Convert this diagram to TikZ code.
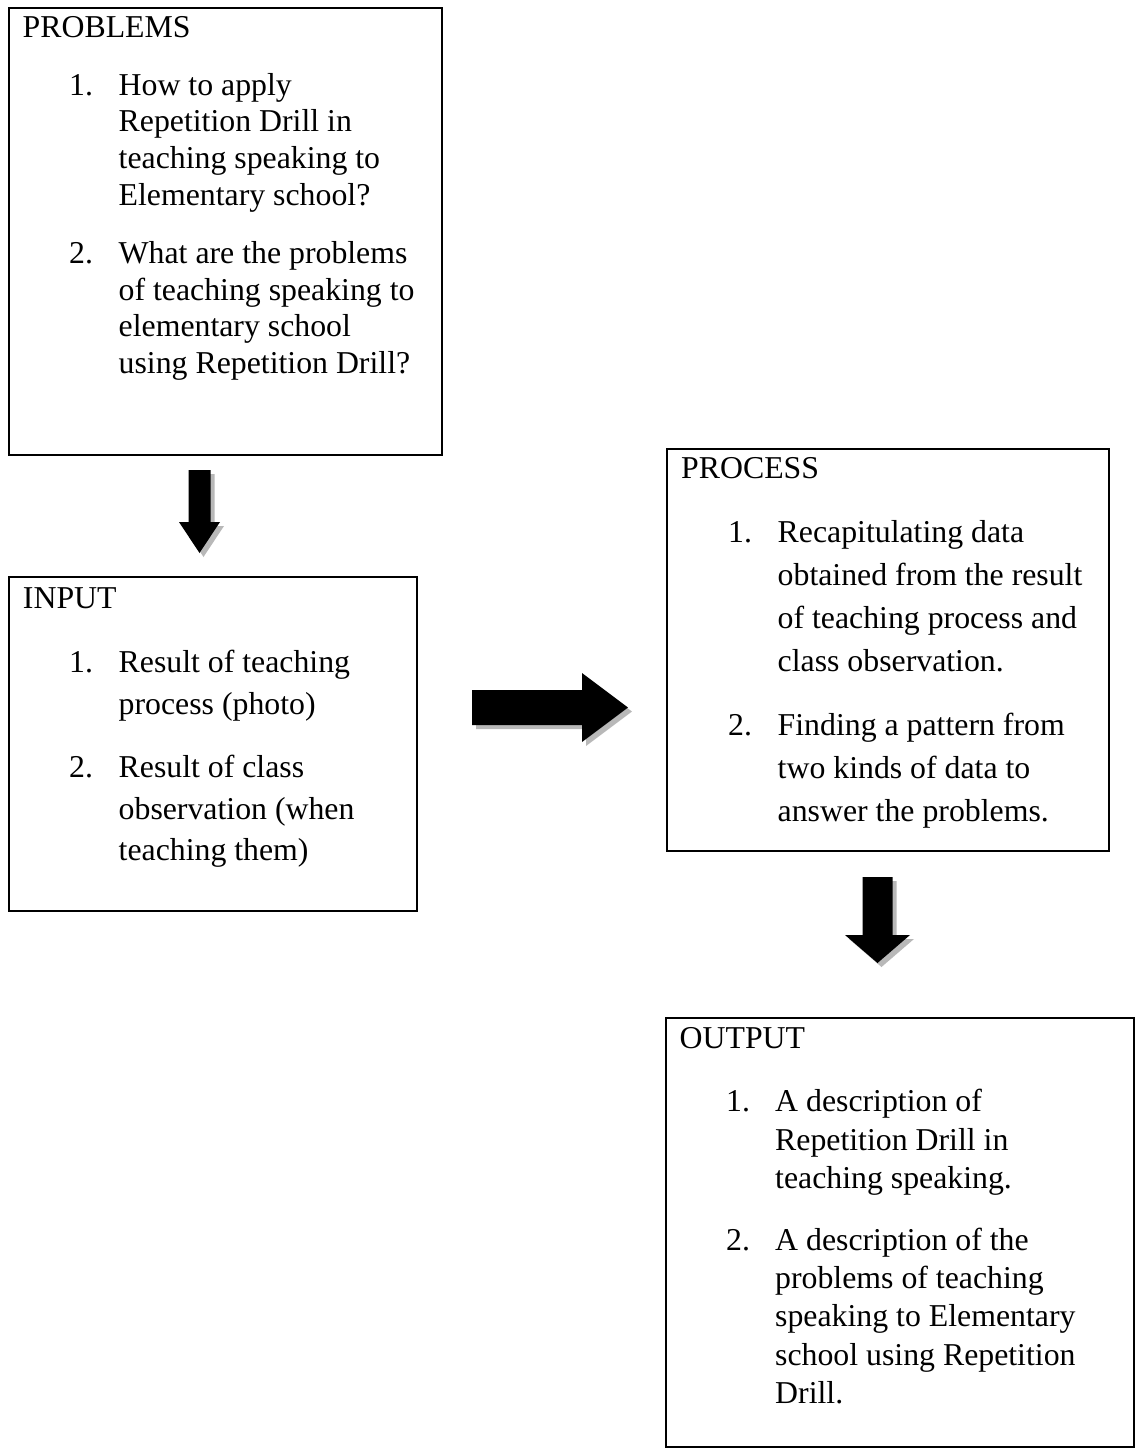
\documentclass[tikz,border=0pt]{standalone}
\usepackage{fontspec}
\setmainfont{Liberation Serif}
\usetikzlibrary{calc,shadows}
\begin{document}
\begin{tikzpicture}[x=1pt,y=-1pt,
  box/.style={draw=black, line width=2pt, rectangle, inner sep=0pt},
  txt/.style={anchor=base west, inner sep=0pt, font=\fontsize{31.8}{38}\selectfont},
  blk/.style={fill=black, drop shadow={shadow xshift=4pt, shadow yshift=-4pt, fill=black!28, opacity=1}}]
\useasboundingbox (0,0) rectangle (1139,1456);

% boxes
\node[box, minimum width=432.7pt, minimum height=447pt] (problems) at (225.35,231.5) {};
\node[box, minimum width=408pt, minimum height=334pt] (input) at (213,744) {};
\node[box, minimum width=442pt, minimum height=402pt] (process) at (887.5,650) {};
\node[box, minimum width=468.5pt, minimum height=429pt] (output) at (899.75,1232.5) {};

% PROBLEMS text
\node[txt] (pt) at (22.5,37) {PROBLEMS};
\node[txt] (pn1) at (69,95) {1.};
\node[txt] (p1a) at (118.5,95) {How to apply};
\node[txt] (p1b) at (118.5,131.7) {Repetition Drill in};
\node[txt] (p1c) at (118.5,168.3) {teaching speaking to};
\node[txt] (p1d) at (118.5,205) {Elementary school?};
\node[txt] (pn2) at (69,263.3) {2.};
\node[txt] (p2a) at (118.5,263.3) {What are the problems};
\node[txt] (p2b) at (118.5,300) {of teaching speaking to};
\node[txt] (p2c) at (118.5,336.7) {elementary school};
\node[txt] (p2d) at (118.5,373.3) {using Repetition Drill?};

% INPUT text
\node[txt] (it) at (22.8,608) {INPUT};
\node[txt] (in1) at (69,672.5) {1.};
\node[txt] (i1a) at (118.5,672.5) {Result of teaching};
\node[txt] (i1b) at (118.5,714) {process (photo)};
\node[txt] (in2) at (69,777.5) {2.};
\node[txt] (i2a) at (118.5,777.5) {Result of class};
\node[txt] (i2b) at (118.5,819) {observation (when};
\node[txt] (i2c) at (118.5,860.5) {teaching them)};

% PROCESS text
\node[txt] (rt) at (681,478) {PROCESS};
\node[txt] (rn1) at (728,542) {1.};
\node[txt] (r1a) at (777.5,542) {Recapitulating data};
\node[txt] (r1b) at (777.5,585) {obtained from the result};
\node[txt] (r1c) at (777.5,628) {of teaching process and};
\node[txt] (r1d) at (777.5,671) {class observation.};
\node[txt] (rn2) at (728,735) {2.};
\node[txt] (r2a) at (777.5,735) {Finding a pattern from};
\node[txt] (r2b) at (777.5,778) {two kinds of data to};
\node[txt] (r2c) at (777.5,821) {answer the problems.};

% OUTPUT text
\node[txt] (ot) at (679.5,1048) {OUTPUT};
\node[txt] (on1) at (726,1111.7) {1.};
\node[txt] (o1a) at (775,1111.7) {A description of};
\node[txt] (o1b) at (775,1150) {Repetition Drill in};
\node[txt] (o1c) at (775,1188.3) {teaching speaking.};
\node[txt] (on2) at (726,1250) {2.};
\node[txt] (o2a) at (775,1250) {A description of the};
\node[txt] (o2b) at (775,1288.3) {problems of teaching};
\node[txt] (o2c) at (775,1326.7) {speaking to Elementary};
\node[txt] (o2d) at (775,1365) {school using Repetition};
\node[txt] (o2e) at (775,1403.3) {Drill.};

% block arrows
\coordinate (a1t) at (199.5,470);
\coordinate (a1h) at (199.5,553);
\fill[blk] ($(a1t)+(-11,0)$) -- ($(a1t)+(11,0)$) -- ($(a1h)+(11,-31)$) -- ($(a1h)+(20.5,-31)$) -- (a1h) -- ($(a1h)+(-20.5,-31)$) -- ($(a1h)+(-11,-31)$) -- cycle;

\coordinate (a2t) at (472,707.5);
\coordinate (a2h) at (628,707.5);
\fill[blk] ($(a2t)+(0,-17.5)$) -- ($(a2h)+(-46,-17.5)$) -- ($(a2h)+(-46,-34.5)$) -- (a2h) -- ($(a2h)+(-46,34.5)$) -- ($(a2h)+(-46,17.5)$) -- ($(a2t)+(0,17.5)$) -- cycle;

\coordinate (a3t) at (877.5,877);
\coordinate (a3h) at (877.5,963);
\fill[blk] ($(a3t)+(-15,0)$) -- ($(a3t)+(15,0)$) -- ($(a3h)+(15,-28)$) -- ($(a3h)+(32.5,-28)$) -- (a3h) -- ($(a3h)+(-32.5,-28)$) -- ($(a3h)+(-15,-28)$) -- cycle;
\end{tikzpicture}
\end{document}
